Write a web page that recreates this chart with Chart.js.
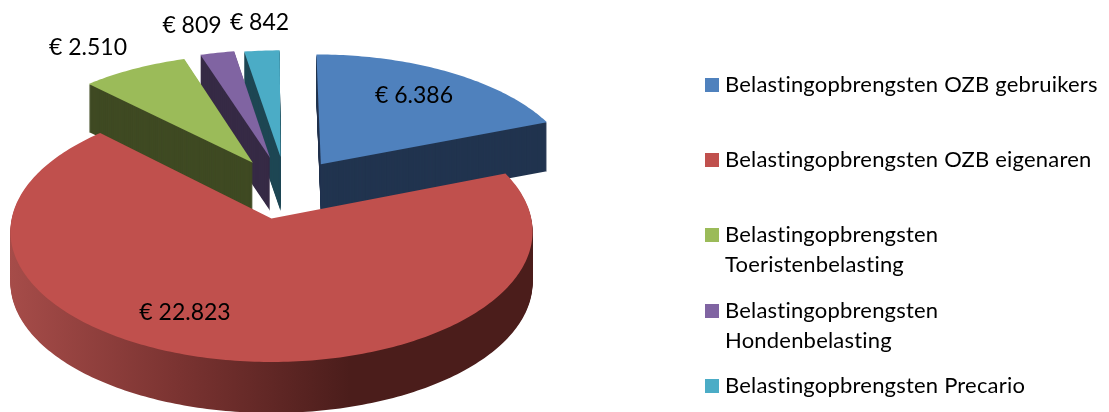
<!DOCTYPE html>
<html>
<head>
<meta charset="utf-8">
<script src="https://cdn.jsdelivr.net/npm/chart.js@4"></script>
<style>
  html, body { margin: 0; background: #fff; }
  canvas { display: block; }
</style>
</head>
<body>
<canvas id="myChart" width="1109" height="412"></canvas>
<script>
const categorieen = [
    "Belastingopbrengsten OZB gebruikers",
    "Belastingopbrengsten OZB eigenaren",
    "Belastingopbrengsten Toeristenbelasting",
    "Belastingopbrengsten Hondenbelasting",
    "Belastingopbrengsten Precario"
];
const opbrengsten = [6386, 22823, 2510, 809, 842];
const kleuren = ["#4F81BD", "#C0504D", "#9BBB59", "#8064A2", "#4BACC6"];
const zijkleuren = ["#21344F", "#4B1D1B", "#3F4A23", "#362A45", "#1F4754"];

// look of the 3D pie
const kantel = 0.497;     // vertical squash of the pie plane
const perspectief = 0.1;
const tekenvolgorde = [4, 3, 2, 0, 1];   // back to front
const uitschuif = [[52, 113], [0.5, -1], [-19, 116], [-1, 127], [10, 129]];   // explode per slice, in the plane
const straalfactor = [1.01, 0.995, 1, 1, 0.99];
const diepte = [49, 51, 48, 53, 54];
const labelPos = [[414, 103], [185, 320], [88, 55], [192, 33], [259.5, 30]];
const legendaRegels = [
    ["Belastingopbrengsten OZB gebruikers"],
    ["Belastingopbrengsten OZB eigenaren"],
    ["Belastingopbrengsten", "Toeristenbelasting"],
    ["Belastingopbrengsten", "Hondenbelasting"],
    ["Belastingopbrengsten Precario"]
];
const legendaY = [85, 160, 235, 311, 386];

function projecteer(arc, u, v) {
    const w = 1 + perspectief * v / arc.outerRadius;
    return { x: arc.x + u / w, y: arc.y - kantel * v / w };
}

// outline of a slice on the pie plane: tip, then the rim
function omtrek(arc, i) {
    const [du, dv] = uitschuif[i];
    const r = arc.outerRadius * straalfactor[i];
    const punten = [projecteer(arc, du, dv)];
    const a0 = arc.startAngle + Math.PI / 2;
    const a1 = arc.endAngle + Math.PI / 2;
    const stappen = Math.ceil((a1 - a0) * 60);
    for (let s = 0; s <= stappen; s++) {
        const t = a0 + (a1 - a0) * s / stappen;
        punten.push(projecteer(arc, du + r * Math.sin(t), dv + r * Math.cos(t)));
    }
    return punten;
}

function vulVorm(ctx, punten, kleur, dy) {
    ctx.beginPath();
    punten.forEach((p, k) => k ? ctx.lineTo(p.x, p.y + dy) : ctx.moveTo(p.x, p.y + dy));
    ctx.closePath();
    ctx.fillStyle = kleur;
    ctx.fill();
}

const pie3d = {
    id: "pie3d",
    beforeDatasetDraw(chart, args) {
        const ctx = chart.ctx;
        const arcs = args.meta.data;
        tekenvolgorde.forEach(i => {
            const punten = omtrek(arcs[i], i);
            let zijkant = zijkleuren[i];
            if (i === 1) {
                zijkant = ctx.createLinearGradient(10, 0, 350, 0);
                zijkant.addColorStop(0, "#A64C49");
                zijkant.addColorStop(0.5, "#7A3331");
                zijkant.addColorStop(1, "#4B1D1B");
            }
            // stack the outline downwards for the wall, then the top face
            for (let d = diepte[i]; d > 0; d--) {
                vulVorm(ctx, punten, zijkant, d);
            }
            vulVorm(ctx, punten, kleuren[i], 0);
        });
        return false;
    },
    afterDatasetsDraw(chart) {
        const ctx = chart.ctx;
        ctx.save();
        ctx.fillStyle = "#000";
        ctx.textAlign = "center";
        ctx.textBaseline = "alphabetic";
        ctx.font = "23px Lato, sans-serif";
        opbrengsten.forEach((waarde, i) => {
            ctx.fillText("€ " + waarde.toLocaleString("nl-NL"), labelPos[i][0], labelPos[i][1]);
        });
        ctx.textAlign = "left";
        ctx.font = "22px Lato, sans-serif";
        ctx.letterSpacing = "0.2px";   // also stops the Lato "ti" ligature
        legendaRegels.forEach((regels, i) => {
            ctx.fillStyle = kleuren[i];
            ctx.fillRect(705, legendaY[i] - 7, 14, 14);
            ctx.fillStyle = "#000";
            regels.forEach((regel, n) => ctx.fillText(regel, 725, legendaY[i] + 7 + n * 30));
        });
        ctx.restore();
    }
};

new Chart(document.getElementById("myChart"), {
    type: "pie",
    data: {
        labels: categorieen,
        datasets: [{ data: opbrengsten, backgroundColor: kleuren, radius: 261, borderWidth: 0 }]
    },
    options: {
        responsive: false,
        animation: false,
        layout: { padding: { right: 567, top: 24 } },
        plugins: { legend: { display: false }, tooltip: { enabled: false } }
    },
    plugins: [pie3d]
});
</script>
</body>
</html>
